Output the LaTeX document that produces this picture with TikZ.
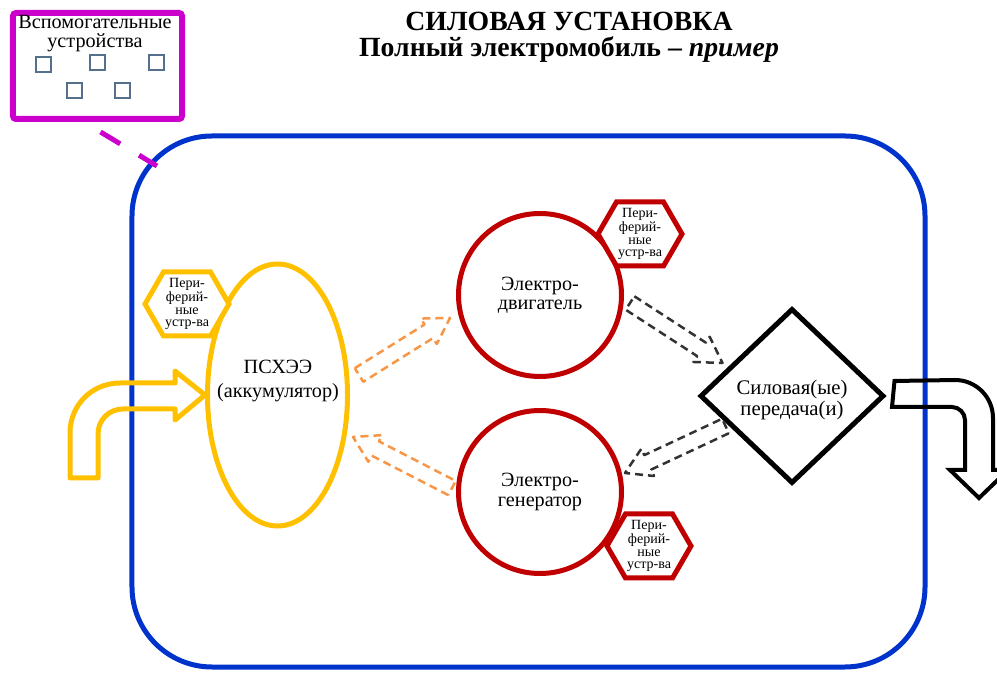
\documentclass[tikz,border=0pt]{standalone}
\usepackage{fontspec}
\setmainfont{Liberation Serif}
\usetikzlibrary{shapes.geometric,shapes.symbols,calc}

\definecolor{frameblue}{RGB}{0,51,204}
\definecolor{auxmag}{RGB}{204,0,204}
\definecolor{battyel}{RGB}{255,192,0}
\definecolor{motred}{RGB}{192,0,0}
\definecolor{flowor}{RGB}{247,150,70}
\definecolor{sqblue}{RGB}{84,112,140}

\tikzset{
  lbl/.style={align=center, inner sep=0pt, font=\fontsize{11.5}{13.5}\selectfont},
  auxbox/.style={draw=auxmag, line width=1.2mm, rounded corners=0.6mm,
    minimum width=33.8mm, minimum height=21.2mm, inner sep=0pt},
  sqbox/.style={draw=sqblue, line width=0.4mm, minimum size=3mm, inner sep=0pt},
  machine/.style={circle, draw=motred, line width=1mm, minimum size=32.6mm,
    inner sep=0pt, align=center, font=\fontsize{11.5}{11}\selectfont},
  periph/.style={signal, signal to=east and west, signal pointer angle=120,
    draw=#1, line width=1mm, fill=white, minimum width=16.8mm,
    minimum height=12.8mm, inner sep=0.5pt, align=center,
    font=\fontsize{8}{7.2}\selectfont},
  flowarrow/.style={dash pattern=on 1.6mm off 1mm, line width=0.5mm, line join=round}
}

% hollow dashed arrow: style, tail, tip
\newcommand{\hollowarrow}[3]{%
  \coordinate (hb) at ($(#3)!5mm!(#2)$);
  \draw[#1] ($(#2)!1.6mm!90:(#3)$) -- ($(hb)!1.6mm!90:(#3)$)
    -- ($(hb)!3mm!90:(#3)$) -- (#3) -- ($(hb)!3mm!-90:(#3)$)
    -- ($(hb)!1.6mm!-90:(#3)$) -- ($(#2)!1.6mm!-90:(#3)$) -- cycle;
}

\begin{document}
\begin{tikzpicture}[x=0.2mm, y=-0.2mm]
\useasboundingbox (0,0) rectangle (997,677);

% title
\node[align=center, inner sep=0pt, font=\fontsize{15.8}{14.8}\selectfont\bfseries] (title) at (569,37)
  {СИЛОВАЯ УСТАНОВКА\\Полный электромобиль -- \textit{пример}};

% auxiliary devices
\node[auxbox] (aux) at (97.5,66) {};
\node[lbl, font=\fontsize{11.5}{10.8}\selectfont] (auxtxt) at (95,34) {Вспомогательные\\устройства};
\foreach \x/\y [count=\i] in {43/65,97/63,156/63,74/91,122/91}
  \node[sqbox] (sq\i) at (\x,\y) {};

% powertrain frame
\node[draw=frameblue, line width=1mm, rounded corners=16mm, minimum width=158.6mm,
  minimum height=106.2mm, inner sep=0pt] (frame) at (528.5,401.5) {};
\coordinate (auxend) at (157,166);
\draw[auxmag, line width=1mm, dash pattern=on 4.6mm off 4.4mm] ($(aux.south)+(3,10)$) -- (auxend);

% energy storage
\node[ellipse, draw=battyel, line width=1mm, minimum width=28mm, minimum height=52.4mm,
  inner sep=0pt] (batt) at (277.5,395) {};
\node[lbl] (batttxt) at (278,381) {ПСХЭЭ\\(аккумулятор)};

% machines
\node[machine] (motor) at (540,295) {Электро-\\двигатель};
\node[machine] (gen) at (540,492) {Электро-\\генератор};

% transmission
\node[diamond, draw=black, line width=1mm, minimum width=36.8mm, minimum height=35mm,
  inner sep=0pt] (trans) at (792,396) {};
\node[lbl, font=\fontsize{11.8}{12.5}\selectfont] (transtxt) at (792,400) {Силовая(ые)\\передача(и)};

% peripherals
\node[periph=battyel] (p1) at (187,304) {Пери-\\ферий-\\ные\\устр-ва};
\node[periph=motred] (p2) at (640,234) {Пери-\\ферий-\\ные\\устр-ва};
\node[periph=motred] (p3) at (649,546) {Пери-\\ферий-\\ные\\устр-ва};

% energy flows
\coordinate (o1a) at ($(batt.east)+(9,-20)$);
\coordinate (o1b) at ($(motor.west)+(-6,23)$);
\coordinate (o2a) at ($(gen.west)+(-4,-4)$);
\coordinate (o2b) at ($(batt.east)+(3,42)$);
\coordinate (k1a) at ($(motor.east)+(6,8)$);
\coordinate (k1b) at ($(trans.west)+(25,-33)$);
\coordinate (k2a) at ($(trans.west)+(28,30)$);
\coordinate (k2b) at ($(gen.east)+(1,-19)$);
\hollowarrow{flowarrow, flowor}{o1a}{o1b}
\hollowarrow{flowarrow, flowor}{o2a}{o2b}
\hollowarrow{flowarrow, black!80}{k1a}{k1b}
\hollowarrow{flowarrow, black!80}{k2a}{k2b}

% input and output
\draw[battyel, line width=1mm, line join=round] (70,478) -- (70,433)
  .. controls (70,405) and (92,383) .. (120,383) -- (175,383) -- (175,371) -- (batt.west)
  -- (175,420) -- (175,409) -- (123,409) .. controls (109,409) and (98,420) .. (98,434)
  -- (98,478) -- cycle;
\draw[black, line width=0.8mm] ($(trans.east)+(8,-15)$) -- (955,380)
  .. controls (976,380) and (993,397) .. (993,418) -- (993,470) -- (1008,470)
  -- (979,498) -- (950,470) -- (965,470) -- (965,420)
  .. controls (965,413) and (959,407) .. (952,407) -- (892,407) -- cycle;
\end{tikzpicture}
\end{document}
